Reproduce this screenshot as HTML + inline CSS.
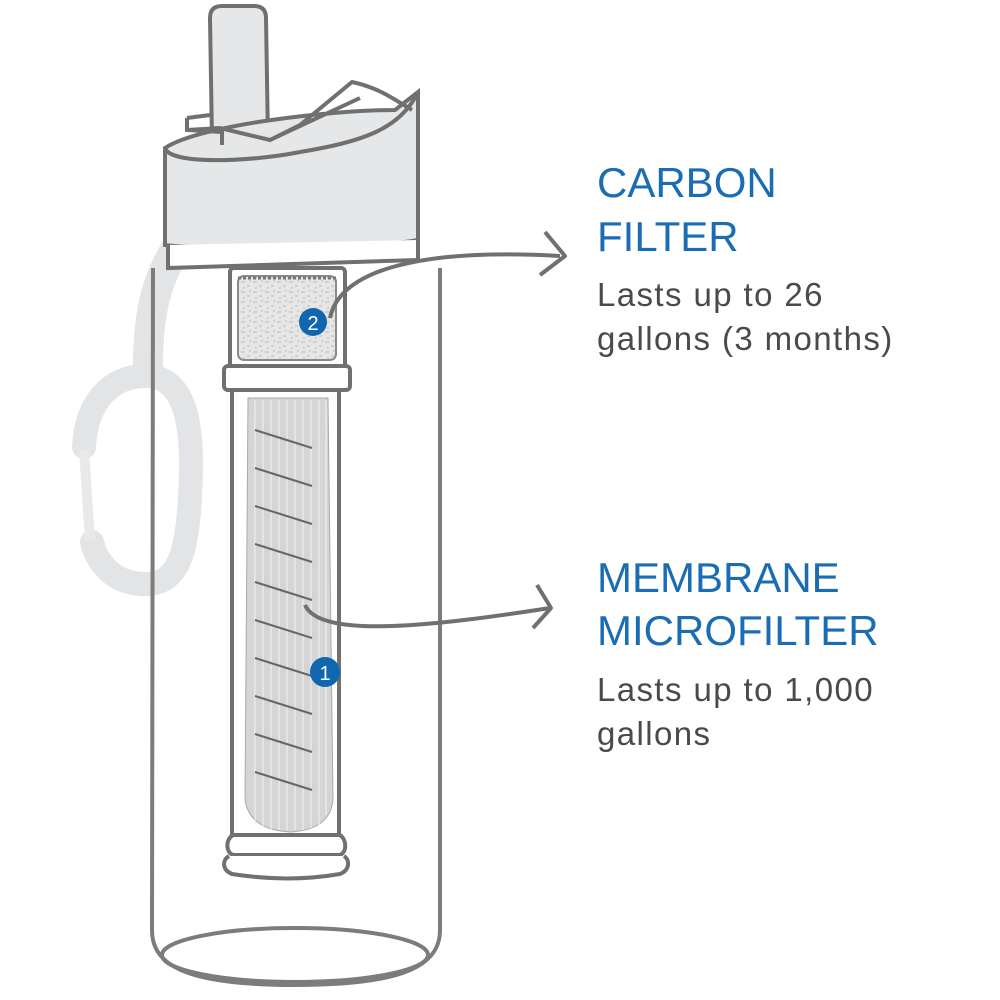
<!DOCTYPE html>
<html><head><style>
html,body{margin:0;padding:0;background:#fff;}
svg{display:block;}
.h{font-family:"Liberation Sans",sans-serif;fill:#1b6db3;font-size:42px;}
.t{font-family:"Liberation Sans",sans-serif;fill:#4a4a4a;font-size:33px;letter-spacing:1.4px;}
</style></head><body>
<svg width="1000" height="1000" viewBox="0 0 1000 1000" xmlns="http://www.w3.org/2000/svg">
<defs>
<pattern id="tex" width="12" height="10" patternUnits="userSpaceOnUse">
<rect width="12" height="10" fill="#e6e6e6"/>
<path d="M1 2h4M7 6h3M3 8h2M9 1h2" stroke="#c8c8c8" stroke-width="1.5"/>
</pattern>
</defs>
<!-- strap -->
<path d="M175 250 C160 275 148 305 148 365" stroke="#e3e4e5" stroke-width="30" fill="none" stroke-linecap="round"/>
<!-- carabiner -->
<path d="M84 447 C87 392 120 376 145 376 C180 376 192 412 191 470 C189 540 184 580 150 584 C112 586 96 560 92 542" stroke="#e3e4e5" stroke-width="24" fill="none" stroke-linecap="round"/>
<path d="M84 450 L90 540" stroke="#e8e9ea" stroke-width="10" fill="none"/>
<!-- bottle body -->
<path d="M153 268 L152 930 C152 965 185 985 295 985 C405 985 440 965 440 930 L440 268" stroke="#7c7c7c" stroke-width="4" fill="none"/>
<ellipse cx="295" cy="955" rx="133" ry="27" stroke="#7c7c7c" stroke-width="4" fill="none"/>
<!-- straw -->
<path d="M212 140 L210 18 Q210 6 222 6 L254 6 Q266 6 266 18 L268 140 Z" fill="#e6e7e8" stroke="#707070" stroke-width="4"/>
<!-- cap -->
<path d="M165 148 C200 125 330 110 395 110 L418 92 L418 240 C380 248 200 250 165 245 Z" fill="#e6e7e8" stroke="#707070" stroke-width="4"/>
<path d="M165 148 C170 165 250 162 300 152 C360 142 400 130 418 92" fill="none" stroke="#707070" stroke-width="4"/>
<path d="M187 130 L220 128 L270 140 L300 125 L352 82 C380 88 395 100 412 110" fill="none" stroke="#707070" stroke-width="4"/>
<path d="M270 140 L360 98" fill="none" stroke="#707070" stroke-width="4"/>
<path d="M187 118 L187 130 L222 132 L222 145" fill="none" stroke="#707070" stroke-width="4"/>
<path d="M210 115 L187 118" fill="none" stroke="#707070" stroke-width="4"/>
<!-- cap ring -->
<path d="M168 245 L168 268 L418 260 L418 240" fill="#fff" stroke="#707070" stroke-width="4"/>
<!-- carbon filter -->
<rect x="230" y="268" width="115" height="100" rx="4" fill="#fff" stroke="#707070" stroke-width="4"/>
<rect x="238" y="276" width="98" height="84" rx="6" fill="url(#tex)" stroke="#8a8a8a" stroke-width="2"/>
<path d="M238 278 H336" stroke="#777" stroke-width="3" stroke-dasharray="3 2"/>
<!-- ring -->
<rect x="224" y="366" width="126" height="24" rx="4" fill="#fff" stroke="#707070" stroke-width="4"/>
<!-- membrane housing -->
<path d="M232 390 L232 835 M339 390 L339 835" stroke="#707070" stroke-width="4"/>
<path d="M248 398 L245 800 Q250 830 290 832 Q330 830 333 800 L328 398 Z" fill="#d5d5d5" stroke="#aaa" stroke-width="1"/>
<g stroke="#eee" stroke-width="1.2">
<path d="M255 400 V825 M263 400 V828 M271 400 V830 M279 400 V830 M287 400 V830 M295 400 V830 M303 400 V830 M311 400 V828 M319 400 V825 M326 400 V815"/>
</g>
<g stroke="#666" stroke-width="2">
<path d="M255 430 L312 448 M255 468 L312 486 M255 506 L312 524 M255 544 L312 562 M255 582 L312 600 M255 620 L312 638 M255 658 L312 676 M255 696 L312 714 M255 734 L312 752 M255 772 L312 790"/>
</g>
<!-- base -->
<path d="M233 835 C225 840 226 852 233 855 L340 855 C347 852 347 840 340 835 Z" fill="#fff" stroke="#707070" stroke-width="4"/>
<path d="M229 856 C222 860 222 870 232 874 C270 880 305 880 340 874 C350 870 350 860 344 856" fill="#fff" stroke="#707070" stroke-width="4"/>
<!-- arrows -->
<path d="M330 318 C340 270 420 248 560 256" stroke="#707070" stroke-width="4" fill="none"/>
<path d="M545 232 L565 256 L540 275" stroke="#707070" stroke-width="4" fill="none" stroke-linejoin="round"/>
<path d="M305 605 C320 640 440 625 550 608" stroke="#707070" stroke-width="4" fill="none"/>
<path d="M537 585 L551 608 L533 628" stroke="#707070" stroke-width="4" fill="none" stroke-linejoin="round"/>
<!-- badges -->
<circle cx="313" cy="322" r="14" fill="#1166b0"/>
<text x="313" y="330" text-anchor="middle" font-family="Liberation Sans,sans-serif" font-size="20" fill="#fff">2</text>
<circle cx="325" cy="672" r="15" fill="#1166b0"/>
<text x="325" y="680" text-anchor="middle" font-family="Liberation Sans,sans-serif" font-size="20" fill="#fff">1</text>
<!-- text -->
<text class="h" x="597" y="197">CARBON</text>
<text class="h" x="597" y="251">FILTER</text>
<text class="t" x="597" y="306">Lasts up to 26</text>
<text class="t" x="597" y="350">gallons (3 months)</text>
<text class="h" x="597" y="592">MEMBRANE</text>
<text class="h" x="597" y="645">MICROFILTER</text>
<text class="t" x="597" y="701">Lasts up to 1,000</text>
<text class="t" x="597" y="745">gallons</text>
</svg>
</body></html>
